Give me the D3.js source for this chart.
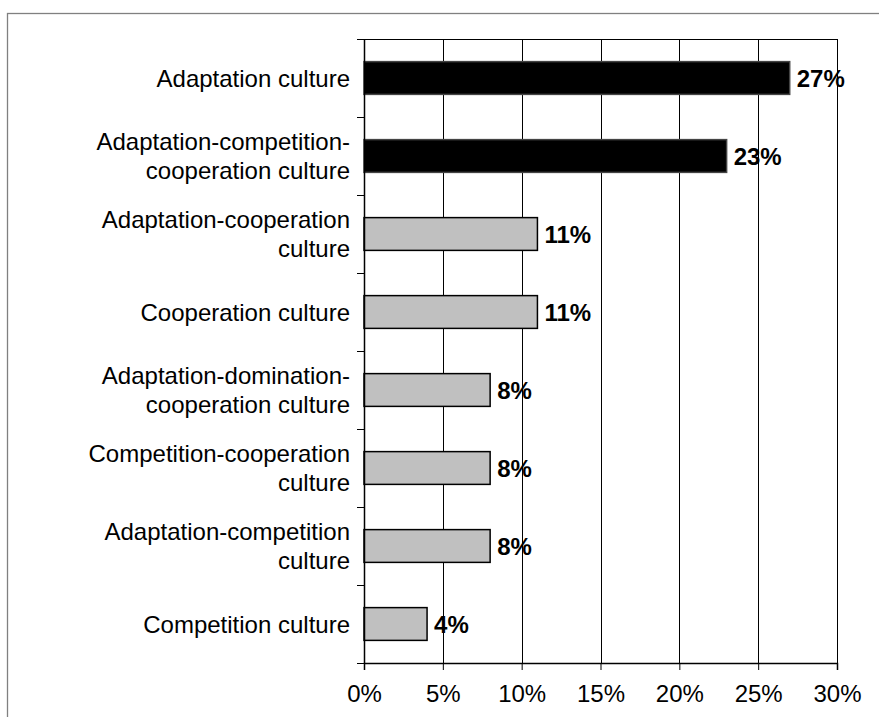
<!DOCTYPE html>
<html>
<head>
<meta charset="utf-8">
<script src="https://cdn.jsdelivr.net/npm/d3@7"></script>
<style>
  html, body { margin: 0; padding: 0; background: #fff; }
  svg { display: block; font-family: "Liberation Sans", Arial, sans-serif; }
</style>
</head>
<body>
<svg id="chart" width="879" height="717"></svg>
<script>
// Share of respondents by organisational culture type
const categories = [
  "Adaptation culture",
  "Adaptation-competition-\ncooperation culture",
  "Adaptation-cooperation\nculture",
  "Cooperation culture",
  "Adaptation-domination-\ncooperation culture",
  "Competition-cooperation\nculture",
  "Adaptation-competition\nculture",
  "Competition culture"
];
const values = [27, 23, 11, 11, 8, 8, 8, 4];
const highlighted = [true, true, false, false, false, false, false, false];
const xTicks = [0, 5, 10, 15, 20, 25, 30];

const svg = d3.select("#chart");
const margin = { left: 364, right: 42, top: 39, bottom: 54 };
const W = 879, H = 717;
const plotW = W - margin.left - margin.right;
const plotH = H - margin.top - margin.bottom;

// outer frame
svg.append("rect")
  .attr("x", 7.5).attr("y", 13.5)
  .attr("width", 900).attr("height", 900)
  .attr("fill", "none").attr("stroke", "#808080").attr("stroke-width", 1.3);

const g = svg.append("g").attr("transform", `translate(${margin.left},${margin.top})`);

const x = d3.scaleLinear().domain([0, 30]).range([0, plotW]);
const yBand = d3.scaleBand().domain(categories).range([0, plotH]).padding(0);
const yBar = d3.scaleBand().domain(categories).range([0, plotH])
  .paddingInner(0.58).paddingOuter(0.29);

// vertical gridlines
g.selectAll("line.grid").data(xTicks.slice(1)).join("line")
  .attr("class", "grid")
  .attr("x1", d => Math.round(x(d)) + 0.5).attr("x2", d => Math.round(x(d)) + 0.5)
  .attr("y1", 0).attr("y2", plotH)
  .attr("stroke", "#000").attr("stroke-width", 1);

// top border of plot area
g.append("line")
  .attr("x1", 0).attr("x2", plotW).attr("y1", 0.5).attr("y2", 0.5)
  .attr("stroke", "#000");

// bars
g.selectAll("rect.bar").data(values).join("rect")
  .attr("class", "bar")
  .attr("x", x(0))
  .attr("y", (d, i) => yBar(categories[i]))
  .attr("width", d => x(d) - x(0))
  .attr("height", yBar.bandwidth())
  .attr("fill", (d, i) => highlighted[i] ? "#000" : "#c0c0c0")
  .attr("stroke", (d, i) => highlighted[i] ? "#444" : "#000")
  .attr("stroke-width", 1.5);

// value labels
g.selectAll("text.val").data(values).join("text")
  .attr("class", "val")
  .attr("x", d => x(d) + 7)
  .attr("y", (d, i) => yBar(categories[i]) + yBar.bandwidth() / 2)
  .attr("dy", "0.36em")
  .attr("font-size", 24).attr("font-weight", "bold").attr("fill", "#000")
  .text(d => d + "%");

// x axis
const xAxis = g.append("g").attr("transform", `translate(0,${plotH})`)
  .call(d3.axisBottom(x).tickValues(xTicks).tickFormat(d => d + "%").tickSize(7).tickPadding(15));
xAxis.select(".domain").attr("stroke", "#000").attr("stroke-width", 1.5);
xAxis.selectAll(".tick line").attr("stroke", "#000");
xAxis.selectAll(".tick text").attr("font-size", 24).attr("fill", "#000")
  .attr("font-family", "Liberation Sans, Arial, sans-serif");

// y axis: line with ticks at band boundaries
g.append("line").attr("x1", 0.5).attr("x2", 0.5).attr("y1", 0).attr("y2", plotH)
  .attr("stroke", "#000").attr("stroke-width", 1.5);
const boundaries = categories.map(c => yBand(c)).concat([plotH]);
g.selectAll("line.ytick").data(boundaries).join("line")
  .attr("class", "ytick")
  .attr("x1", -7).attr("x2", 0)
  .attr("y1", d => Math.round(d) + 0.5).attr("y2", d => Math.round(d) + 0.5)
  .attr("stroke", "#000");

// category labels
const labels = g.selectAll("text.cat").data(categories).join("text")
  .attr("class", "cat")
  .attr("text-anchor", "end")
  .attr("font-size", 24).attr("fill", "#000")
  .attr("x", -14)
  .attr("y", d => yBand(d) + yBand.bandwidth() / 2);
labels.each(function(d) {
  const lines = d.split("\n");
  const t = d3.select(this);
  const lh = 29.5;
  lines.forEach((ln, k) => {
    t.append("tspan")
      .attr("x", -14)
      .attr("dy", k === 0 ? (0.36 * 24 - (lines.length - 1) * lh / 2) : lh)
      .text(ln);
  });
});
</script>
</body>
</html>
